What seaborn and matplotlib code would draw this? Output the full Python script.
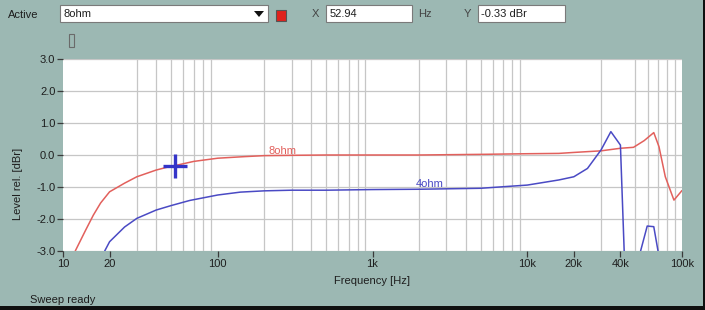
import numpy as np
import pandas as pd
import matplotlib
matplotlib.use("Agg")
import matplotlib.pyplot as plt
from matplotlib.patches import Rectangle, Polygon
from matplotlib.ticker import FixedLocator, NullFormatter
import seaborn as sns

# ---------------- data ----------------
freq_8ohm = [12, 14, 15.7, 17.5, 20, 25, 30, 40, 50, 53, 70, 100, 150, 200, 300,
             500, 1000, 2000, 5000, 10000, 16000, 20000, 30000, 40000, 48600,
             57000, 65700, 71000, 78000, 88700, 100000]
level_8ohm = [-3.0, -2.35, -1.88, -1.5, -1.15, -0.88, -0.68, -0.47, -0.35, -0.33,
              -0.2, -0.1, -0.05, -0.02, -0.01, 0.0, 0.0, 0.0, 0.02, 0.04, 0.05,
              0.08, 0.13, 0.21, 0.24, 0.45, 0.70, 0.26, -0.68, -1.41, -1.11]

freq_4ohm = [18.6, 20, 25, 30, 40, 50, 66, 100, 140, 200, 300, 500, 1000, 2000,
             5000, 10000, 16000, 20000, 24500, 30000, 34700, 40000, 42300,
             54000, 59600, 65700, 70000]
level_4ohm = [-3.0, -2.71, -2.25, -1.98, -1.72, -1.58, -1.42, -1.25, -1.16, -1.12,
              -1.1, -1.1, -1.08, -1.07, -1.04, -0.94, -0.78, -0.68, -0.42, 0.16,
              0.73, 0.31, -3.0, -3.0, -2.22, -2.24, -3.0]
part_4ohm = [0] * 23 + [1] * 4

series_names = ["8ohm", "4ohm"]
series_colors = {"8ohm": "#e2605c", "4ohm": "#4a4ac4"}

x_ticks = [10, 20, 100, 1000, 10000, 20000, 40000, 100000]
x_tick_labels = ["10", "20", "100", "1k", "10k", "20k", "40k", "100k"]
y_ticks = [3.0, 2.0, 1.0, 0.0, -1.0, -2.0, -3.0]
y_tick_labels = ["3.0", "2.0", "1.0", "0.0", "-1.0", "-2.0", "-3.0"]

cursor_x = 52.94
cursor_y = -0.33
active_name = "8ohm"
status_text = "Sweep ready"
x_label = "Frequency [Hz]"
y_label = "Level rel. [dBr]"

# ---------------- build table ----------------
df = pd.concat([
    pd.DataFrame({"Frequency": freq_8ohm, "Level": level_8ohm,
                  "Series": "8ohm", "part": 0}),
    pd.DataFrame({"Frequency": freq_4ohm, "Level": level_4ohm,
                  "Series": "4ohm", "part": part_4ohm}),
], ignore_index=True)
df["unit"] = df["Series"] + "_" + df["part"].astype(str)

# ---------------- style ----------------
sns.set_theme(style="white")
plt.rcParams["font.family"] = ["Liberation Sans", "DejaVu Sans"]
plt.rcParams["font.size"] = 8

BG = "#9cb8b3"
TXT = "#1e1e1e"
W, H = 705, 310


def fx(px):
    return px / W


def fy(py):
    return 1 - py / H


fig = plt.figure(figsize=(W / 100, H / 100), dpi=100, facecolor=BG)
ax = fig.add_axes([fx(63), fy(251), 619 / W, 192 / H])
ax.set_facecolor("white")

sns.lineplot(data=df, x="Frequency", y="Level", hue="Series", units="unit",
             estimator=None, palette=series_colors, hue_order=series_names,
             legend=False, sort=False, linewidth=1.1, ax=ax, zorder=3)

ax.set_xscale("log")
ax.set_xlim(10, 100000)
ax.set_ylim(-3.0, 3.0)

# grid
minor_pos = [m * 10 ** e for e in range(1, 5) for m in range(1, 10)] + [100000]
ax.xaxis.set_minor_locator(FixedLocator(minor_pos))
ax.xaxis.set_minor_formatter(NullFormatter())
ax.xaxis.set_major_locator(FixedLocator(x_ticks))
ax.set_xticklabels(x_tick_labels)
ax.set_yticks(y_ticks)
ax.set_yticklabels(y_tick_labels)
ax.grid(False)
ax.grid(which="minor", axis="x", color="#c6c6c6", lw=0.9, zorder=0)
ax.grid(which="major", axis="y", color="#c6c6c6", lw=0.9, zorder=0)
ax.set_axisbelow(True)
for s in ax.spines.values():
    s.set_visible(False)
ax.tick_params(which="minor", length=0)
ax.tick_params(which="major", axis="both", length=4, width=0.9, color="#3a3a3a",
               labelsize=8, labelcolor=TXT, pad=1.5, direction="out")
ax.tick_params(axis="y", left=True)
ax.tick_params(axis="x", bottom=True)
ax.set_xlabel("")
ax.set_ylabel("")

# curve labels
ax.text(262, -0.03, "8ohm", color=series_colors["8ohm"], fontsize=8,
        ha="center", va="bottom", zorder=4)
ax.text(2330, -1.06, "4ohm", color=series_colors["4ohm"], fontsize=8,
        ha="center", va="bottom", zorder=4)

# cursor
ax.plot([cursor_x], [cursor_y], marker="+", markersize=17, mew=2.4,
        color="#3434c8", zorder=5, clip_on=False)

# axis labels
fig.text(fx(372), fy(281), x_label, ha="center", va="center", fontsize=8,
         color=TXT)
fig.text(fx(18), fy(184), y_label, ha="center", va="center", fontsize=8,
         color=TXT, rotation=90)
fig.text(fx(30), fy(300), status_text, ha="left", va="center", fontsize=8,
         color=TXT)

# ---------------- toolbar ----------------
def box(x0, y0, x1, y1, fc="white", ec="#7a7a7a", lw=0.8):
    fig.patches.append(Rectangle((fx(x0), fy(y1)), (x1 - x0) / W, (y1 - y0) / H,
                                 transform=fig.transFigure, fc=fc, ec=ec, lw=lw))


fig.text(fx(8), fy(15), "Active", ha="left", va="center", fontsize=8, color=TXT)
box(60, 5, 268, 22)
fig.text(fx(64), fy(14), active_name, ha="left", va="center", fontsize=8,
         color=TXT)
fig.patches.append(Polygon([(fx(254), fy(11)), (fx(264), fy(11)), (fx(259), fy(17))],
                           closed=True, transform=fig.transFigure, fc="#111111",
                           ec="none"))
box(276, 10, 286, 21, fc="#e0221c", ec="#555555")

fig.text(fx(312), fy(14), "X", ha="left", va="center", fontsize=8, color="#444444")
box(326, 5, 412, 22)
fig.text(fx(330), fy(14), f"{cursor_x:.2f}", ha="left", va="center", fontsize=8,
         color=TXT)
fig.text(fx(418), fy(14), "Hz", ha="left", va="center", fontsize=8, color="#444444")
fig.text(fx(464), fy(14), "Y", ha="left", va="center", fontsize=8, color="#444444")
box(478, 5, 565, 22)
fig.text(fx(481), fy(14), f"{cursor_y:.2f} dBr", ha="left", va="center",
         fontsize=8, color=TXT)

# small glyph
box(69, 34, 74, 47, fc="none", ec="#6a6a6a", lw=0.8)

# window border
fig.patches.append(Rectangle((0, 0), 1, 4 / H, transform=fig.transFigure,
                             fc="#101010", ec="none"))
fig.patches.append(Rectangle((fx(703), 0), 2 / W, 1, transform=fig.transFigure,
                             fc="#101010", ec="none"))

fig.savefig("out.png", dpi=100, facecolor=BG)
